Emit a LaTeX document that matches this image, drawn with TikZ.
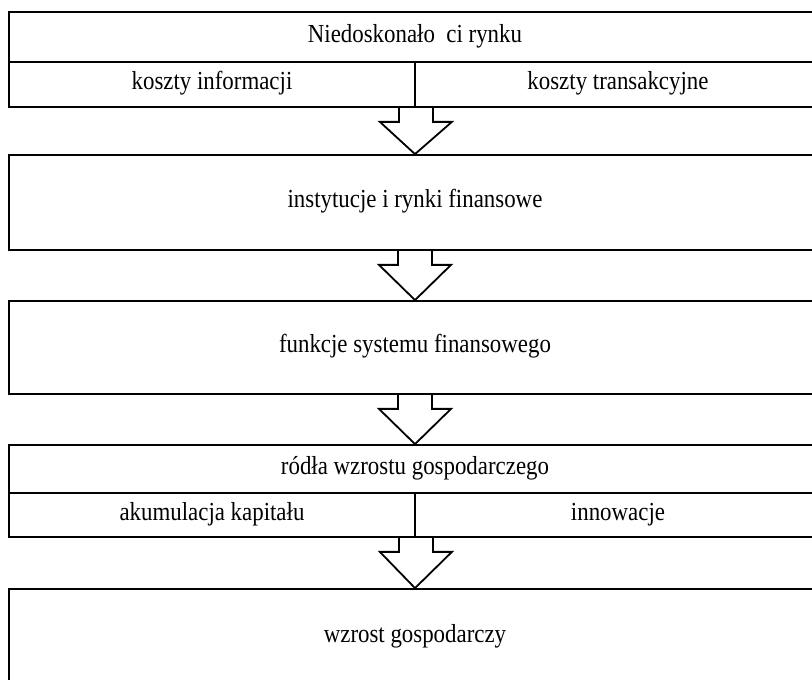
\documentclass[tikz,border=0pt]{standalone}
\usepackage{fontspec}
\setmainfont{Liberation Serif}[FakeStretch=0.88]
\usetikzlibrary{calc}

\newcommand{\flowarrow}[2]{%
    \draw[arr] ($(#1)+(-17,0)$) -- ($(#1)+(-17,-14)$) -- ($(#1)+(-36,-14)$)
        -- (#2) -- ($(#1)+(36,-14)$) -- ($(#1)+(17,-14)$) -- ($(#1)+(17,0)$);}

\begin{document}
\begin{tikzpicture}[x=1pt,y=1pt,
    cell/.style={draw,line width=1.8pt,inner sep=0pt,minimum width=812pt,
        text height=17pt,text depth=6pt,font=\fontsize{26}{30}\selectfont},
    halfcell/.style={cell,minimum width=406pt},
    arr/.style={line width=1.8pt,line join=miter}]
    \useasboundingbox (0,0) rectangle (812,680);

    \node[cell,minimum height=50pt] (imperf) at (415,643) {Niedoskonało\ \ ci rynku};
    \node[halfcell,minimum height=45pt] (info) at (212,595.5) {koszty informacji};
    \node[halfcell,minimum height=45pt] (trans) at (618,595.5) {koszty transakcyjne};

    \node[cell,minimum height=95pt] (inst) at (415,477.5) {instytucje i rynki finansowe};

    \node[cell,minimum height=93pt] (func) at (415,332.5) {funkcje systemu finansowego};

    \node[cell,minimum height=48pt] (src) at (415,211) {ródła wzrostu gospodarczego};
    \node[halfcell,minimum height=44pt] (accum) at (212,165) {akumulacja kapitału};
    \node[halfcell,minimum height=44pt] (innov) at (618,165) {innowacje};

    \node[cell,minimum height=97pt] (growth) at (415,42.5) {wzrost gospodarczy};

    \flowarrow{info.south east}{inst.north}
    \flowarrow{inst.south}{func.north}
    \flowarrow{func.south}{src.north}
    \flowarrow{accum.south east}{growth.north}
\end{tikzpicture}
\end{document}
